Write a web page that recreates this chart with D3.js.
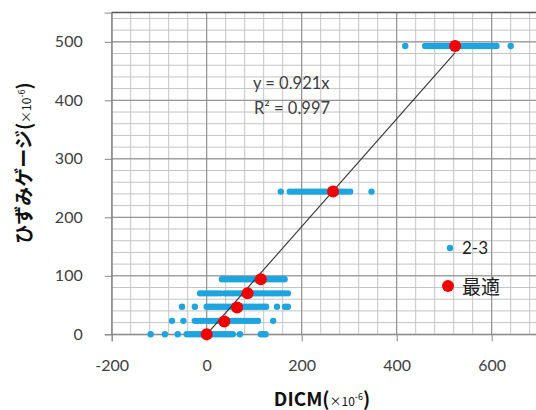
<!DOCTYPE html>
<html>
<head>
<meta charset="utf-8">
<script src="https://cdn.jsdelivr.net/npm/d3@7"></script>
<style>
  body { margin: 0; background: #fff; }
  #wrapper { width: 536px; height: 410px; overflow: hidden; }
</style>
</head>
<body>
<div id="wrapper"></div>
<script>
// blue series "2-3": one x list per strain-gauge level
const rowLevels = [0, 23, 47, 70, 94, 244, 493];
const rowX0 = [-118, -88, -61, -42, -36, -30, -24, -18, -12, 0, 7, 13, 19, 25, 31, 37, 43, 49, 55, 70, 114, 119, 124];
const rowX23 = [-73, -49, -25, -19, -13, -7, 0, 6, 12, 18, 24, 30, 36, 42, 48, 54, 60, 66, 72, 78, 84, 90, 96, 102, 108, 140];
const rowX47 = [-52, -25, 0, 6, 12, 18, 24, 30, 36, 42, 48, 54, 60, 66, 72, 78, 84, 90, 96, 102, 108, 114, 120, 125, 148, 165, 171];
const rowX70 = [-14, -8, -2, 4, 10, 16, 22, 29, 38, 44, 50, 56, 62, 68, 74, 80, 86, 92, 98, 104, 110, 116, 122, 128, 134, 140, 146, 152, 158, 164, 171];
const rowX94 = [32, 38, 44, 50, 56, 62, 68, 74, 80, 86, 92, 98, 104, 110, 116, 122, 128, 134, 140, 146, 152, 158, 164];
const rowX244 = [156, 175, 181, 187, 193, 199, 205, 211, 217, 223, 229, 235, 241, 247, 253, 259, 265, 271, 277, 283, 289, 295, 302, 347];
const rowX493 = [418, 460, 466, 472, 478, 484, 490, 496, 502, 508, 514, 520, 526, 532, 538, 544, 550, 556, 562, 568, 574, 580, 586, 592, 598, 604, 610, 640];
const rowXs = [rowX0, rowX23, rowX47, rowX70, rowX94, rowX244, rowX493];

// red series "最適"
const bestX = [0, 37, 64, 86, 114, 266, 523];
const bestY = [0, 22, 46, 70, 94, 244, 493];

const slope = 0.921;
const xTicks = [-200, 0, 200, 400, 600];
const yTicks = [0, 100, 200, 300, 400, 500];

const blueData = [];
rowXs.forEach((xs, i) => xs.forEach(x => blueData.push({x: x, y: rowLevels[i]})));
const redData = bestX.map((x, i) => ({x: x, y: bestY[i]}));

const width = 536, height = 410;
const svg = d3.select("#wrapper").append("svg")
    .attr("width", width).attr("height", height);

const xScale = d3.scaleLinear().domain([-200, 700]).range([111.7, 539.2]);
const yScale = d3.scaleLinear().domain([0, 550]).range([334.3, 12.6]);

// minor grid
const minorX = d3.range(-200, 701, 40);
const minorY = d3.range(0, 551, 20);
svg.append("g").selectAll("line").data(minorX).join("line")
    .attr("x1", d => xScale(d)).attr("x2", d => xScale(d))
    .attr("y1", yScale(0)).attr("y2", yScale(550))
    .attr("stroke", "#c4c4c4").attr("stroke-width", 1);
svg.append("g").selectAll("line").data(minorY).join("line")
    .attr("x1", xScale(-200)).attr("x2", xScale(700))
    .attr("y1", d => yScale(d)).attr("y2", d => yScale(d))
    .attr("stroke", "#c4c4c4").attr("stroke-width", 1);

// major grid
svg.append("g").selectAll("line").data(xTicks).join("line")
    .attr("x1", d => xScale(d)).attr("x2", d => xScale(d))
    .attr("y1", yScale(0)).attr("y2", yScale(550))
    .attr("stroke", "#8a8a8a").attr("stroke-width", 1);
svg.append("g").selectAll("line").data(yTicks).join("line")
    .attr("x1", xScale(-200)).attr("x2", xScale(700))
    .attr("y1", d => yScale(d)).attr("y2", d => yScale(d))
    .attr("stroke", "#8a8a8a").attr("stroke-width", 1);

// top border
svg.append("line")
    .attr("x1", xScale(-200)).attr("x2", xScale(700))
    .attr("y1", yScale(550)).attr("y2", yScale(550))
    .attr("stroke", "#555").attr("stroke-width", 1.5);

// axes
const xAxis = d3.axisBottom(xScale).tickValues(xTicks).tickSize(7).tickPadding(18)
    .tickFormat(d => String(d));
const yAxis = d3.axisLeft(yScale).tickValues(yTicks).tickSize(7).tickPadding(22)
    .tickFormat(d => String(d));

const gx = svg.append("g").attr("transform", `translate(0,${yScale(0)})`).call(xAxis);
const gy = svg.append("g").attr("transform", `translate(${xScale(-200)},0)`).call(yAxis);
[gx, gy].forEach(g => {
  g.select(".domain").attr("stroke", "#868686");
  g.selectAll(".tick line").attr("stroke", "#868686");
  g.selectAll("text").attr("fill", "#404040")
    .style("font-family", "Lato, 'Open Sans', sans-serif").style("font-size", "16px");
});

// blue points
svg.append("g").selectAll("circle").data(blueData).join("circle")
    .attr("cx", d => xScale(d.x)).attr("cy", d => yScale(d.y))
    .attr("r", 3.2).attr("fill", "#1ea5df");

// trend line
const xMax = d3.max(bestX);
svg.append("line")
    .attr("x1", xScale(0)).attr("y1", yScale(0))
    .attr("x2", xScale(xMax)).attr("y2", yScale(slope * xMax))
    .attr("stroke", "#333").attr("stroke-width", 1.1);

// red points
svg.append("g").selectAll("circle").data(redData).join("circle")
    .attr("cx", d => xScale(d.x)).attr("cy", d => yScale(d.y))
    .attr("r", 6).attr("fill", "#f00000");

// trend label
const lbl = svg.append("g").style("font-family", "Lato, 'Open Sans', sans-serif")
    .style("font-size", "16.5px").attr("fill", "#404040");
lbl.append("text").attr("x", 253).attr("y", 89).text("y = 0.921x");
lbl.append("text").attr("x", 254).attr("y", 114).text("R² = 0.997");

// legend
svg.append("circle").attr("cx", 450).attr("cy", 248).attr("r", 3.2).attr("fill", "#1ea5df");
svg.append("text").attr("x", 462).attr("y", 254).text("2-3")
    .style("font-family", "Lato, 'Open Sans', sans-serif").style("font-size", "17px").attr("fill", "#222");
svg.append("circle").attr("cx", 448).attr("cy", 286).attr("r", 6).attr("fill", "#f00000");
svg.append("text").attr("x", 462).attr("y", 294).text("最適")
    .style("font-family", "'Noto Sans CJK JP', sans-serif").style("font-size", "19px").attr("fill", "#222");

// axis titles
const xt = svg.append("text").attr("x", 322).attr("y", 406).attr("text-anchor", "middle")
    .style("font-family", "'Noto Sans CJK JP', sans-serif").style("font-weight", "bold")
    .style("font-size", "19px").attr("fill", "#111");
xt.append("tspan").text("DICM(");
xt.append("tspan").style("font-size", "12px").style("font-weight", "normal").text("×10");
xt.append("tspan").style("font-size", "9px").style("font-weight", "normal").attr("dy", -6).text("-6");
xt.append("tspan").attr("dy", 6).text(")");

const yt = svg.append("text").attr("transform", "translate(31,163) rotate(-90)")
    .attr("text-anchor", "middle")
    .style("font-family", "'Noto Sans CJK JP', sans-serif").style("font-weight", "bold")
    .style("font-size", "19px").attr("fill", "#111");
yt.append("tspan").text("ひずみゲージ(");
yt.append("tspan").style("font-size", "12px").style("font-weight", "normal").text("×10");
yt.append("tspan").style("font-size", "9px").style("font-weight", "normal").attr("dy", -6).text("-6");
yt.append("tspan").attr("dy", 6).text(")");
</script>
</body>
</html>
